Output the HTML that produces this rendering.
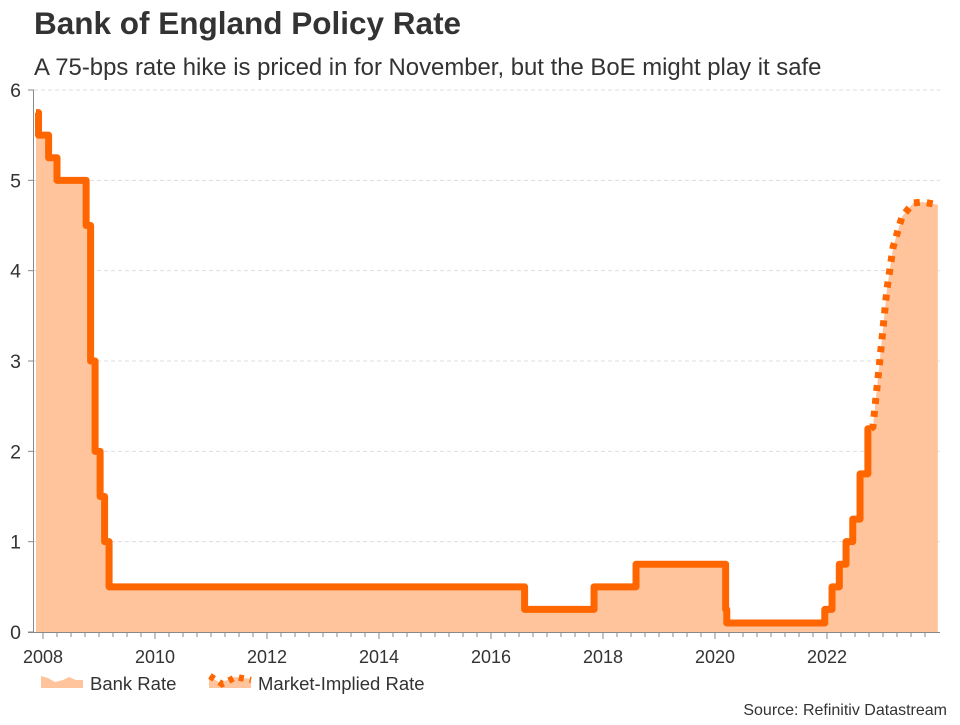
<!DOCTYPE html>
<html><head><meta charset="utf-8">
<style>
body{margin:0;background:#fff;font-family:"Liberation Sans",sans-serif;}
svg text{font-family:"Liberation Sans",sans-serif;}
</style></head>
<body>
<svg width="960" height="720" viewBox="0 0 960 720" xmlns="http://www.w3.org/2000/svg">
<text x="34" y="34" font-size="31.5" font-weight="bold" fill="#333">Bank of England Policy Rate</text>
<text x="34" y="75" font-size="23.9" fill="#333">A 75-bps rate hike is priced in for November, but the BoE might play it safe</text>
<g id="grid"></g>
<g id="area"></g>
<g id="lines"></g>
<g id="axes"></g>
<g>
<path d="M41,676 L48,678 L55,682 L63,680 L69,677 L76,680 L83,680 L83,688 L41,688Z" fill="#ffc49c"/>
<text x="90" y="690" font-size="18.5" fill="#333">Bank Rate</text>
<path d="M209,676 L220,683 L235,677 L251,679 L251,688 L209,688Z" fill="#ffc49c"/>
<path d="M210,676 L222,684 L236,677 L251,680" fill="none" stroke="#ff6600" stroke-width="6.5" stroke-dasharray="5,6"/>
<text x="258" y="690" font-size="18.5" fill="#333">Market-Implied Rate</text>
</g>
<text x="947" y="715" font-size="16" fill="#333" text-anchor="end">Source: Refinitiv Datastream</text>
</svg>
<script>
const bankDates=[2007.875,2007.92,2008.1,2008.25,2008.77,2008.85,2008.93,2009.02,2009.1,2009.18,2016.6,2017.84,2018.59,2020.19,2020.21,2021.96,2022.09,2022.22,2022.34,2022.46,2022.59,2022.73,2022.78];
const bankRates=[5.75,5.5,5.25,5.0,4.5,3.0,2.0,1.5,1.0,0.5,0.25,0.5,0.75,0.25,0.1,0.25,0.5,0.75,1.0,1.25,1.75,2.25,2.25];
const mktDates=[2022.78,2022.82,2022.95,2023.07,2023.18,2023.34,2023.54,2023.71,2023.98];
const mktRates=[2.25,2.27,3.05,3.79,4.26,4.6,4.75,4.76,4.73];
const yTicks=[0,1,2,3,4,5,6];
const xTickLabels=[2008,2010,2012,2014,2016,2018,2020,2022];
const NS='http://www.w3.org/2000/svg';
const X=d=>43+(d-2008)*56;
const Y=v=>632-v*90.33;
const mk=(t,a,p)=>{const e=document.createElementNS(NS,t);for(const k in a)e.setAttribute(k,a[k]);document.getElementById(p).appendChild(e);return e;};
yTicks.forEach(v=>{
 if(v>0){const g=mk('line',{x1:34,x2:940,y1:Y(v),y2:Y(v),stroke:'#ddd','stroke-dasharray':'4,3'},'grid');
 
 }
 const tk=mk('line',{x1:28,x2:34,y1:Y(v),y2:Y(v),stroke:'#888'},'axes');
 
 
 const t=mk('text',{x:21,y:Y(v)+7,'font-size':19.5,fill:'#333','text-anchor':'end'},'axes');
 t.textContent=v;
 
 
});
let sp='';
bankDates.forEach((d,i)=>{
 if(i===0)sp+='M'+X(d)+','+Y(bankRates[i]);
 else sp+=' L'+X(d)+','+Y(bankRates[i-1])+' L'+X(d)+','+Y(bankRates[i]);
});
let mp='';
mktDates.forEach((d,i)=>{mp+=(i?' L':'M')+X(d)+','+Y(mktRates[i]);});
let ap=sp+mp.replace('M',' L')+' L'+X(mktDates[mktDates.length-1])+','+Y(0)+' L'+X(bankDates[0])+','+Y(0)+'Z';
const a=mk('path',{d:ap,fill:'#ffc49c'},'area');


const l1=mk('path',{d:sp,fill:'none',stroke:'#ff6600','stroke-width':7,'stroke-linejoin':'round'},'lines');


const l2=mk('path',{d:mp,fill:'none',stroke:'#ff6600','stroke-width':7,'stroke-dasharray':'6,7'},'lines');


const ya=mk('line',{x1:33.5,x2:33.5,y1:Y(6),y2:Y(0),stroke:'#888'},'axes');


const xa=mk('line',{x1:28,x2:940,y1:632.5,y2:632.5,stroke:'#888'},'axes');


for(let q=2008;q<=2023.76;q+=0.25){
 const major=Math.abs(q-Math.round(q))<1e-6&&Math.round(q)%2===0;
 const t=mk('line',{x1:X(q),x2:X(q),y1:633,y2:major?639:637,stroke:'#888'},'axes');
 
 
}
xTickLabels.forEach(y=>{
 const t=mk('text',{x:X(y),y:663,'font-size':18,fill:'#333','text-anchor':'middle'},'axes');
 t.textContent=y;
 
 
});
</script>
</body></html>
